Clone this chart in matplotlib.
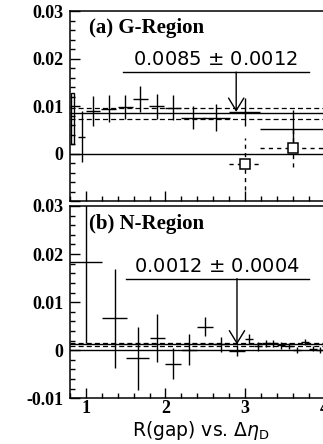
import numpy as np
import matplotlib
matplotlib.use('Agg')
import matplotlib.pyplot as plt
from matplotlib.patches import Rectangle

# (a) G-Region: solid crosses
xa = [0.945, 1.088, 1.285, 1.494, 1.683, 1.893, 2.094, 2.346, 2.639, 2.995, 3.60]
xa_err = [0.04, 0.09, 0.095, 0.095, 0.095, 0.095, 0.105, 0.155, 0.17, 0.19, 0.41]
ya = [0.0036, 0.0090, 0.0095, 0.0099, 0.0115, 0.0100, 0.0097, 0.0076, 0.0076, 0.0088, 0.0052]
ya_err = [0.0053, 0.0031, 0.0029, 0.0025, 0.0027, 0.0026, 0.0026, 0.0025, 0.0029, 0.0030, 0.0039]

# (a) open squares with dashed errors
xs = [2.995, 3.60]
xs_err = [0.19, 0.41]
ys = [-0.0022, 0.0012]
ys_err = [0.0055, 0.0040]

# narrow box at the left edge of (a)
box_x, box_hw, box_y, box_err = 0.83, 0.02, 0.0074, 0.0053

mean_a, sig_a = 0.0085, 0.0012

# (b) N-Region
xb = [1.00, 1.36, 1.65, 1.90, 2.094, 2.30, 2.50, 2.70, 2.90, 3.05, 3.16, 3.26, 3.35,
      3.45, 3.55, 3.65, 3.76, 3.86, 3.95]
xb_err = [0.20, 0.155, 0.145, 0.10, 0.10, 0.095, 0.10, 0.085, 0.10, 0.05, 0.05, 0.05,
          0.05, 0.05, 0.05, 0.05, 0.05, 0.05, 0.05]
yb = [0.0184, 0.0066, -0.0017, 0.0026, -0.0028, 0.0001, 0.0049, 0.0012, -0.0001, 0.0023,
      0.0008, 0.0014, 0.0014, 0.0010, 0.0008, 0.0001, 0.0017, 0.0003, 0.0000]
yb_err = [0.0170, 0.0103, 0.0065, 0.0050, 0.0032, 0.0032, 0.0020, 0.0016, 0.0012, 0.0010,
          0.0010, 0.0008, 0.0008, 0.0007, 0.0006, 0.0006, 0.0006, 0.0005, 0.0006]

mean_b, sig_b = 0.0012, 0.0004

yticks = [-0.01, 0, 0.01, 0.02, 0.03]
ytick_labels = ['-0.01', '0', '0.01', '0.02', '0.03']
xticks = [1, 2, 3, 4]

plt.rcParams['mathtext.fontset'] = 'dejavusans'

W, H = 323, 444
fig = plt.figure(figsize=(W / 100, H / 100), dpi=100)

tickfont = dict(family='Liberation Serif', weight='bold', size=13)


def setup(ax, bottom):
    ax.set_xlim(0.8, 4.1)
    ax.set_ylim(-0.01, 0.03)
    ax.set_xticks(xticks)
    ax.set_xticks(np.arange(0.8, 4.11, 0.2), minor=True)
    ax.set_yticks(yticks)
    ax.set_yticks(np.arange(-0.01, 0.0301, 0.002), minor=True)
    ax.tick_params(which='both', direction='in', top=False, right=False, width=1.0)
    ax.tick_params(which='major', length=7)
    ax.tick_params(which='minor', length=3.5)
    ax.tick_params(axis='y', pad=5)
    ax.tick_params(axis='x', pad=1.5)
    if bottom:
        ax.set_yticklabels(ytick_labels, fontdict=tickfont)
        ax.set_xticklabels([str(t) for t in xticks], fontdict=tickfont)
    else:
        # the lowest label of the upper panel is hidden behind the lower one
        ax.set_yticklabels([''] + ytick_labels[1:], fontdict=tickfont)
        ax.set_xticklabels([])
    for s in ax.spines.values():
        s.set_linewidth(1.1)


def mean_lines(ax, m, s):
    ax.axhline(0, color='k', lw=1.0)
    ax.axhline(m, color='k', lw=1.0)
    ax.axhline(m + s, color='k', lw=0.9, ls=(0, (4, 2.5)))
    ax.axhline(m - s, color='k', lw=0.9, ls=(0, (4, 2.5)))


def label_arrow(ax, text, m, xarr, yline, x0, x1):
    ax.plot([x0, x1], [yline, yline], color='k', lw=1.0)
    ax.text((x0 + x1) / 2, yline + 0.0006, text, ha='center', va='bottom',
            family='DejaVu Sans', size=14)
    ax.annotate('', xy=(xarr, m), xytext=(xarr, yline),
                arrowprops=dict(arrowstyle='->,head_length=0.9,head_width=0.55',
                                lw=1.0, color='k', shrinkA=0, shrinkB=0))


# top panel
ax1 = fig.add_axes([70 / W, 1 - 201 / H, 262.4 / W, 189.6 / H])
setup(ax1, False)
mean_lines(ax1, mean_a, sig_a)
ax1.errorbar(xa, ya, xerr=xa_err, yerr=ya_err, fmt='none', ecolor='k',
             elinewidth=1.0, capsize=0)
eb = ax1.errorbar(xs, ys, xerr=xs_err, yerr=ys_err, fmt='s', ms=7, mfc='white',
                  mec='k', mew=1.1, ecolor='k', elinewidth=1.0, capsize=0, zorder=3)
for lc in eb[2]:
    lc.set_linestyle((0, (3, 3)))
ax1.add_patch(Rectangle((box_x - box_hw, box_y - box_err), 2 * box_hw, 2 * box_err,
                        fill=False, ec='k', lw=1.0))
ax1.text(1.04, 0.0264, '(a) G-Region', family='Liberation Serif', weight='bold',
         size=15, ha='left', va='center')
label_arrow(ax1, r'0.0085 $\pm$ 0.0012', mean_a + 0.0003, 2.89, 0.0172, 1.47, 3.80)

# bottom panel
ax2 = fig.add_axes([70 / W, 1 - 398.3 / H, 262.4 / W, 192.3 / H])
setup(ax2, True)
mean_lines(ax2, mean_b, sig_b)
ax2.errorbar(xb, yb, xerr=xb_err, yerr=yb_err, fmt='none', ecolor='k',
             elinewidth=1.0, capsize=0)
ax2.text(1.04, 0.0262, '(b) N-Region', family='Liberation Serif', weight='bold',
         size=15, ha='left', va='center')
label_arrow(ax2, r'0.0012 $\pm$ 0.0004', mean_b, 2.90, 0.0149, 1.50, 3.80)
ax2.set_xlabel(r'R(gap) vs. $\Delta\eta_\mathrm{D}$', family='DejaVu Sans', size=13.5,
               labelpad=1)

fig.savefig('out.png', dpi=100)
